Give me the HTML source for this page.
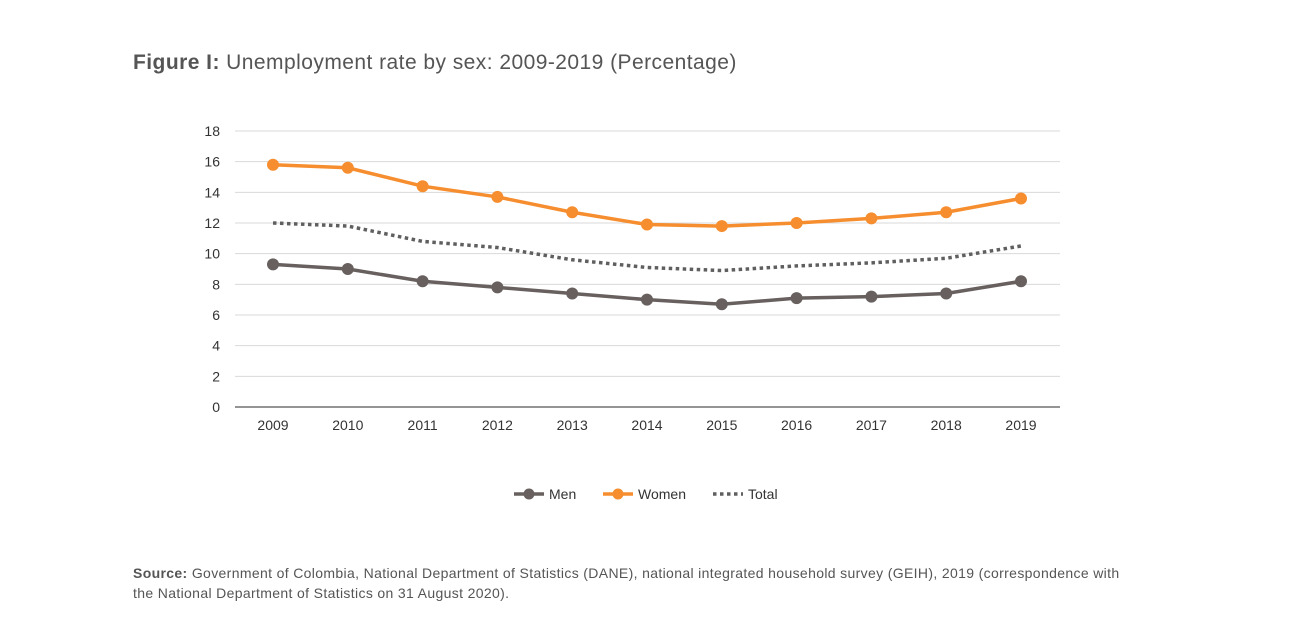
<!DOCTYPE html>
<html><head><meta charset="utf-8"><style>
body{margin:0;width:1295px;height:621px;background:#fff;font-family:"Liberation Sans",sans-serif;overflow:hidden;position:relative}
#title{position:absolute;left:133px;top:51px;font-size:21px;color:#555;letter-spacing:0.45px}
#title b{color:#555}
#src{position:absolute;left:133px;top:563px;font-size:14px;color:#555;line-height:20px;width:1005px;letter-spacing:0.35px}
svg{position:absolute;left:0;top:0}
</style></head><body>
<div id="title"><b>Figure I:</b> Unemployment rate by sex: 2009-2019 (Percentage)</div>
<svg id="chart" width="1295" height="621"></svg>
<div id="src"><b>Source:</b> Government of Colombia, National Department of Statistics (DANE), national integrated household survey (GEIH), 2019 (correspondence with the National Department of Statistics on 31 August 2020).</div>
<script>
const years=["2009","2010","2011","2012","2013","2014","2015","2016","2017","2018","2019"];
const women=[15.8,15.6,14.4,13.7,12.7,11.9,11.8,12.0,12.3,12.7,13.6];
const men=[9.3,9.0,8.2,7.8,7.4,7.0,6.7,7.1,7.2,7.4,8.2];
const total=[12.0,11.8,10.8,10.4,9.6,9.1,8.9,9.2,9.4,9.7,10.5];
const yTicks=[0,2,4,6,8,10,12,14,16,18];
const NS="http://www.w3.org/2000/svg";
const svg=document.getElementById('chart');
const y=v=>407-v*(276/18);
const x=i=>273+i*74.8;
function mk(t,a,p){const e=document.createElementNS(NS,t);for(const k in a)e.setAttribute(k,a[k]);(p||svg).appendChild(e);return e;}
yTicks.forEach(v=>{
 const l=mk('line',{x1:235,x2:1060,y1:y(v),y2:y(v),stroke:v===0?'#555':'#d9d9d9','stroke-width':v===0?1.3:1});
 
 
 const t=mk('text',{x:220,y:y(v)+5,'text-anchor':'end','font-size':14,fill:'#333'});t.textContent=v;
 
 
});
years.forEach((yr,i)=>{
 const t=mk('text',{x:x(i),y:430,'text-anchor':'middle','font-size':14,fill:'#333'});t.textContent=yr;
 
 
});
function series(vals,color,name,dotted){
 const pts=vals.map((v,i)=>x(i)+','+y(v)).join(' ');
 const p=mk('polyline',{points:pts,fill:'none',stroke:color,'stroke-width':3.5,'stroke-dasharray':dotted?'3.5 3.5':'none'});
 
 
 if(!dotted)vals.forEach((v,i)=>{
  const c=mk('circle',{cx:x(i),cy:y(v),r:6,fill:color});
  
  
 });
}
series(total,'#5f5f5f','total',true);
series(men,'#67605f','men',false);
series(women,'#f68d2e','women',false);
function leg(lx,color,label,dotted){
 const g=mk('g',{});
 
 
 mk('line',{x1:lx,x2:lx+30,y1:494,y2:494,stroke:color,'stroke-width':3.5,'stroke-dasharray':dotted?'3.5 3.5':'none'},g);
 if(!dotted)mk('circle',{cx:lx+15,cy:494,r:5.5,fill:color},g);
 const t=mk('text',{x:lx+35,y:499,'font-size':14,fill:'#333'},g);t.textContent=label;
}
leg(514,'#67605f','Men',false);
leg(603,'#f68d2e','Women',false);
leg(713,'#5f5f5f','Total',true);
</script>
</body></html>
